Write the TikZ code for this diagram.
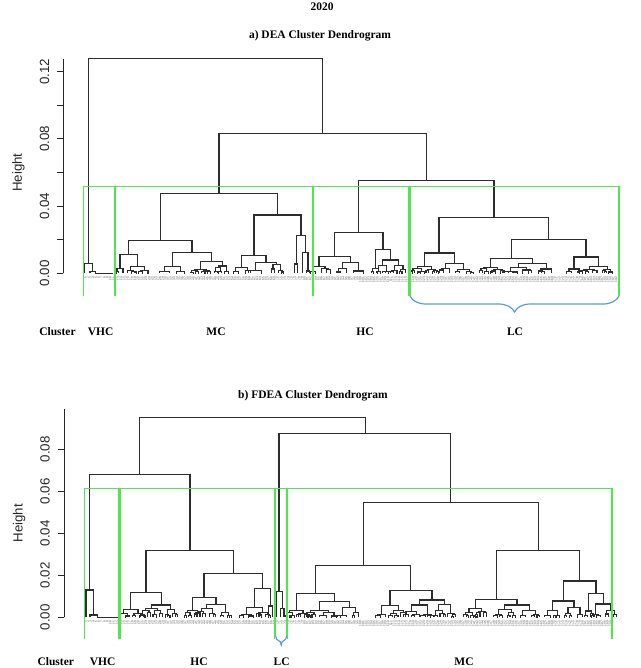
\documentclass[tikz,border=0pt]{standalone}
\usepackage{fontspec}
\setmainfont{Liberation Serif}
\newfontfamily\axisfont{Liberation Sans}
\usetikzlibrary{decorations.pathreplacing}

\definecolor{cutgreen}{RGB}{76,232,76}
\definecolor{braceblue}{RGB}{91,155,213}
\definecolor{treegray}{RGB}{45,45,45}

% one link of the tree: legs at xa (down to ha) and xb (down to hb), bar at h
\newcommand{\merge}[5]{\draw[link] (#1,#2) |- (#3,#5) -- (#3,#4);}

% small random subtree below a leg ending at (x,h); w = half width of its bar
\newcommand{\twig}[3]{%
  \pgfmathparse{or(#2<0.9,#3<1.2)}%
  \ifdim\pgfmathresult pt>0.5pt
    \draw[link] (#1,#3) -- (#1,0);%
  \else
    \begingroup
    \pgfmathsetmacro\twigxl{#1-#2}%
    \pgfmathsetmacro\twigxr{#1+#2}%
    \pgfmathsetmacro\twighl{#3*(0.2+0.6*rnd)}%
    \pgfmathsetmacro\twighr{#3*(0.2+0.6*rnd)}%
    \pgfmathsetmacro\twigwl{#2*(0.35+0.3*rnd)}%
    \pgfmathsetmacro\twigwr{#2*(0.35+0.3*rnd)}%
    \draw[link] (\twigxl,\twighl) |- (\twigxr,#3) -- (\twigxr,\twighr);%
    \edef\twignext{\noexpand\twig{\twigxl}{\twigwl}{\twighl}\noexpand\twig{\twigxr}{\twigwr}{\twighr}}%
    \expandafter\endgroup\twignext
  \fi}

\begin{document}
\begin{tikzpicture}[x=1pt, y=-1pt,
  link/.style={draw=treegray, line width=1.1pt},
  cutbox/.style={draw=cutgreen, line width=1.2pt},
  clbrace/.style={draw=braceblue, line width=1.2pt, decorate,
    decoration={brace, mirror, amplitude=#1}},
  yaxis/.style={draw=black!85, line width=0.9pt},
  ticklab/.style={font=\axisfont\fontsize{13.3}{14}\selectfont, rotate=90, text=black!85},
  plottitle/.style={font=\bfseries\fontsize{11.5}{13}\selectfont, anchor=base},
  leaflab/.style={font=\axisfont\fontsize{3.2}{3.5}\selectfont, text=black!65,
    rotate=90, anchor=east, inner sep=0pt}]
  \useasboundingbox (0,0) rectangle (640,668);
  \pgfmathsetseed{2020}

  \node[plottitle] (year) at (322,11) {2020};

  % ---- a) DEA ----
  \node[plottitle] (titlea) at (320,39) {a) DEA Cluster Dendrogram};
  \begin{scope}[shift={(0,273.3)}, y=1pt]
    \draw[yaxis] (63.3,0) -- (63.3,214);
    \foreach \k in {0,...,6} \draw[yaxis] (63.3,\k*33.6) -- (56.8,\k*33.6);
    \foreach \v/\k in {0.00/0,0.04/2,0.08/4,0.12/6}
      \node[ticklab] (tka\k) at (44.5,\k*33.6) {\v};
    \node[ticklab] (ylaba) at (18.5,100.6) {Height};
    % upper links
    \foreach \xa/\ha/\xb/\hb/\h in {88.3/10/322.7/139.6/215, 219/80/426.3/93/139.6,
      160.7/33/277.3/58.3/80, 128.7/18.6/192/21/33, 120/5/137.3/7/18.6,
      172.3/6.6/211.3/11.6/21, 254/18/301/38/58.3, 241.7/6/266/11/18,
      296.7/9.3/305.3/21/38, 294.3/0/297.7/0/9.3, 302.7/0/308/2.3/21,
      358.3/41/494/56/93, 334.7/17/383/24/41, 319/6.6/350.3/11/17,
      375.7/5/390.7/13.3/24, 439/20.3/548.7/34/56, 424.3/6.6/454.3/10/20.3,
      511.7/15/586/16.3/34, 490.7/6/532.3/10/15, 574/4.3/598.3/6.6/16.3,
      84.3/0/92.7/1.5/10, 90/0/95.3/0/1.5}
      \merge{\xa}{\ha}{\xb}{\hb}{\h}
    \draw[link] (95.3,0) -- (113.3,0);
    % leaf level
    \foreach \x/\h/\w in {120/5/3, 137.3/7/7, 172.3/6.6/8, 211.3/11.6/11,
      241.7/6/6, 266/11/10.8, 308/2.3/1.5, 319/6.6/6, 350.3/11/8, 375.7/5/3,
      390.7/13.3/8, 424.3/6.6/7, 454.3/10/9, 490.7/6/7, 532.3/10/14,
      574/4.3/5, 598.3/6.6/9}
      {\twig{\x}{\w}{\h}}
    \foreach \i in {1,...,192}
      \node[leaflab] (la\i) at (82.2+2.78*\i,-3.5) {\i};
  \end{scope}
  \foreach \l/\r in {83.3/114.3, 115.7/312.7, 313.3/408.3, 410/619}
    \draw[cutbox] (\l,296) |- (\r,186.7) -- (\r,296);
  \draw[clbrace=16pt] (410,296) -- (619,296);
  \node[plottitle] (clusa) at (57.5,335) {Cluster};
  \foreach \t/\x in {VHC/100.7, MC/216, HC/365, LC/515}
    \node[plottitle] (a\t) at (\x,335) {\t};

  % ---- b) FDEA ----
  \node[plottitle] (titleb) at (313,398.3) {b) FDEA Cluster Dendrogram};
  \begin{scope}[shift={(0,617.3)}, y=1pt]
    \draw[yaxis] (64.3,0) -- (64.3,208);
    \foreach \k in {0,...,4} \draw[yaxis] (64.3,\k*42) -- (57.8,\k*42);
    \foreach \v/\k in {0.00/0,0.02/1,0.04/2,0.06/3,0.08/4}
      \node[ticklab] (tkb\k) at (45,\k*42) {\v};
    \node[ticklab] (ylabb) at (19.3,94) {Height};
    % upper links
    \foreach \xa/\ha/\xb/\hb/\h in {139.3/143/365.3/184/200, 89.3/27.3/190/66.6/143,
      86/0/93.3/2.3/27.3, 90/0/97.3/0/2.3, 146/24.6/233.3/43.6/66.6,
      130.7/8/161.3/12.3/24.6, 204/19.6/262.7/29/43.6, 192.7/6.6/216/13/19.6,
      254.7/9.6/270.7/11.3/29, 279/26/450.7/114.6/184, 276.3/0/282.3/8.6/26,
      280.7/0/284/0/8.6, 363.3/52/538.3/67/114.6, 315.3/24/410.3/27/52,
      296.3/6.6/334.3/15.6/24, 390/12/432/17.3/27, 496.3/18/579.3/36.3/67,
      475.3/9/517/12.3/18, 563.3/16.3/596/24/36.3, 552.3/6.6/574/10/16.3,
      588.7/6.3/603.3/13.3/24}
      \merge{\xa}{\ha}{\xb}{\hb}{\h}
    \draw[link] (97.3,0) -- (118.3,0);
    % leaf level
    \foreach \x/\h/\w in {130.7/8/7.3, 161.3/12.3/9.5, 192.7/6.6/5, 216/13/9.3,
      254.7/9.6/8.2, 270.7/11.3/2.2, 296.3/6.6/6.7, 334.3/15.6/15, 390/12/8.3,
      432/17.3/12.8, 475.3/9/6.3, 517/12.3/12.3, 552.3/6.6/5, 574/10/6,
      588.7/6.3/3, 603.3/13.3/7.5}
      {\twig{\x}{\w}{\h}}
    \foreach \i in {1,...,190}
      \node[leaflab] (lb\i) at (82.2+2.78*\i,-3.5) {\i};
  \end{scope}
  \foreach \l/\r/\b in {84.3/119/638.5, 120.3/274.5/638.5, 275.7/286.7/636, 287.7/612/638.5}
    \draw[cutbox] (\l,\b) |- (\r,488.7) -- (\r,\b);
  \draw[clbrace=9pt] (275.7,636) -- (286.7,636);
  \node[plottitle] (clusb) at (55.8,665) {Cluster};
  \foreach \t/\x in {VHC/102.7, HC/199, LC/281.7, MC/464}
    \node[plottitle] (b\t) at (\x,665) {\t};
\end{tikzpicture}
\end{document}
